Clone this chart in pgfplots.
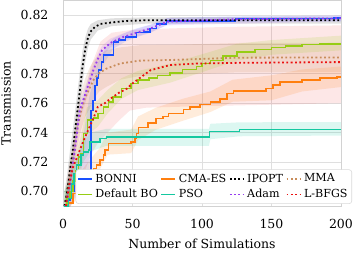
\documentclass[border=0pt]{standalone}
\usepackage{fontspec}
\setmainfont{DejaVu Serif}
\usepackage{pgfplots}
\pgfplotsset{compat=1.18}
\definecolor{cBonni}{RGB}{25,80,255}
\definecolor{cDef}{RGB}{150,205,20}
\definecolor{cCma}{RGB}{255,127,14}
\definecolor{cPso}{RGB}{20,200,160}
\definecolor{cAdam}{RGB}{150,60,240}
\definecolor{cMma}{RGB}{200,140,90}
\definecolor{cLbfgs}{RGB}{235,15,15}
\begin{document}
\begin{tikzpicture}
\begin{axis}[
  width=200pt, height=148pt, scale only axis,
  xmin=0, xmax=200, ymin=0.69, ymax=0.830,
  xtick={0,50,100,150,200},
  ytick={0.70,0.72,0.74,0.76,0.78,0.80,0.82},
  /pgf/number format/assume math mode=true,
  yticklabel style={/pgf/number format/fixed,/pgf/number format/fixed zerofill,/pgf/number format/precision=2, xshift=-7pt},
  tick label style={font=\fontsize{9}{10}\selectfont},
  xticklabel style={yshift=-6pt},
  major tick length=0pt,
  grid=major, grid style={gray!25, line width=0.6pt},
  axis line style={gray!35, line width=0.6pt},
  xlabel={Number of Simulations}, ylabel={Transmission},
  label style={font=\fontsize{9}{10}\selectfont},
  xlabel style={at={(axis description cs:0.5,-0.208)}, anchor=base},
  ylabel style={at={(axis description cs:-0.205,0.5)}, anchor=center},
  legend columns=4,
  legend cell align=left,
  legend image code/.code={\draw[#1, line width=1.1pt] (0pt,0pt) -- (10pt,0pt);},
  legend style={at={(1.04,0.01)}, anchor=south east,
    font=\fontsize{8}{8}\selectfont, draw=gray!30, rounded corners=2pt,
    fill=white, inner sep=1pt,
    /tikz/every even column/.append style={column sep=0pt},
    row sep=-0.5pt},
]
% ---------- bands ----------
\addplot[draw=none, fill=cLbfgs, fill opacity=0.10, forget plot] coordinates {
(2,0.70) (5,0.72) (10,0.745) (15,0.765) (20,0.785) (27,0.802) (35,0.808) (50,0.810) (80,0.811) (120,0.812) (200,0.813)
(200,0.760) (150,0.759) (100,0.758) (60,0.757) (48,0.755) (40,0.748) (30,0.738) (25,0.733) (20,0.725) (15,0.712) (10,0.70) (5,0.69) (2,0.685)
} -- cycle;
\addplot[draw=none, fill=cMma, fill opacity=0.18, forget plot] coordinates {
(2,0.70) (5,0.72) (8,0.738) (10,0.755) (13,0.768) (16,0.777) (19,0.784) (22,0.789) (26,0.793) (31,0.796) (41,0.798) (55,0.7995) (80,0.7998) (125,0.801) (200,0.8012)
(200,0.7812) (125,0.781) (80,0.7792) (55,0.7785) (41,0.776) (31,0.771) (26,0.768) (22,0.763) (19,0.756) (16,0.751) (13,0.742) (10,0.729) (8,0.712) (5,0.696) (2,0.68)
} -- cycle;
\addplot[draw=none, fill=cDef, fill opacity=0.15, forget plot] coordinates {
(1,0.70) (5,0.71) (9,0.725) (13,0.738) (17,0.757) (25,0.762) (32,0.769) (42,0.777) (54,0.782) (77,0.787) (106,0.795) (125,0.8005) (150,0.803) (200,0.806)
(200,0.796) (150,0.793) (125,0.789) (106,0.783) (77,0.774) (54,0.769) (42,0.763) (32,0.753) (25,0.744) (17,0.738) (13,0.713) (9,0.703) (5,0.69) (1,0.68)
} -- cycle;
\addplot[draw=none, fill=cCma, fill opacity=0.15, forget plot] coordinates {
(1,0.695) (10,0.71) (18,0.72) (26,0.729) (32,0.74) (49,0.742) (54,0.751) (67,0.757) (86,0.763) (106,0.768) (122,0.776) (150,0.779) (172,0.783) (200,0.785)
(200,0.771) (172,0.768) (150,0.762) (122,0.761) (106,0.754) (86,0.748) (67,0.742) (54,0.735) (49,0.726) (32,0.725) (26,0.714) (18,0.706) (10,0.695) (1,0.685)
} -- cycle;
\addplot[draw=none, fill=cPso, fill opacity=0.15, forget plot] coordinates {
(1,0.70) (6,0.712) (10,0.724) (14.6,0.733) (19.4,0.740) (31,0.7425) (105,0.7425) (106,0.746) (127,0.747) (200,0.7472)
(200,0.738) (127,0.7375) (106,0.7355) (105,0.731) (31,0.731) (19.4,0.727) (14.6,0.72) (10,0.711) (6,0.698) (1,0.685)
} -- cycle;
\addplot[draw=none, fill=black, fill opacity=0.12, forget plot] coordinates {
(1,0.700) (3,0.712) (5,0.728) (7,0.742) (10,0.765) (12,0.781) (14,0.796) (16,0.805) (18,0.811) (20,0.814) (25,0.8165) (35,0.8178) (60,0.8185) (200,0.8188)
(200,0.8142) (60,0.8142) (35,0.8125) (25,0.8095) (20,0.8035) (18,0.798) (16,0.788) (14,0.773) (12,0.755) (10,0.739) (7,0.714) (5,0.701) (3,0.690) (1,0.685)
} -- cycle;
\addplot[draw=none, fill=cBonni, fill opacity=0.12, forget plot] coordinates {
(3,0.70) (8,0.715) (15,0.74) (19,0.765) (21,0.772) (23,0.780) (25,0.787) (28,0.792) (30,0.797) (36,0.804) (45,0.808) (53,0.811) (63,0.8135) (75,0.8180) (124,0.8192) (200,0.8195)
(200,0.8158) (124,0.8155) (75,0.8135) (63,0.808) (53,0.805) (45,0.802) (36,0.797) (30,0.788) (28,0.784) (25,0.776) (23,0.766) (21,0.750) (19,0.715) (15,0.70) (8,0.695) (3,0.685)
} -- cycle;
\addplot[draw=none, fill=cAdam, fill opacity=0.12, forget plot] coordinates {
(2,0.695) (5,0.711) (8,0.731) (10,0.746) (12,0.761) (15,0.769) (18,0.777) (22,0.787) (25,0.794) (28,0.799) (34,0.804) (43,0.8075) (53,0.8105) (63,0.8135) (75,0.8180) (200,0.8198)
(200,0.8158) (75,0.8130) (63,0.8085) (53,0.8055) (43,0.8025) (34,0.798) (28,0.792) (25,0.786) (22,0.778) (18,0.766) (15,0.757) (12,0.748) (10,0.733) (8,0.719) (5,0.699) (2,0.685)
} -- cycle;
% ---------- lines (legend order: row-major) ----------
\addplot[const plot, cBonni, line width=1.1pt] coordinates {
(1,0.69) (3,0.694) (5,0.700) (8,0.7075) (20,0.755) (21.5,0.762) (23,0.772) (24.5,0.777) (25.5,0.7825) (27.5,0.788) (29,0.7927) (36.2,0.8018) (40,0.803) (45,0.805) (53,0.808) (58,0.8086) (62.6,0.811) (67.4,0.8139) (74.6,0.8161) (124,0.8177) (195,0.818) (200,0.818)
};
\addlegendentry{BONNI}
\addplot[const plot, cCma, line width=1.1pt] coordinates {
(1,0.69) (4,0.692) (7,0.6985) (10,0.702) (15,0.705) (17,0.7075) (18.2,0.7132) (22,0.7155) (24,0.7178) (26.6,0.7212) (29,0.7246) (30.2,0.728) (32.6,0.7325) (49,0.7336) (51.8,0.736) (53,0.7393) (54.2,0.7435) (61,0.7465) (67,0.7496) (72,0.7511) (76,0.753) (86.6,0.7557) (91.4,0.7575) (98.6,0.759) (106,0.761) (113,0.763) (118,0.7666) (122.5,0.7685) (146,0.770) (151,0.7723) (156,0.7745) (172,0.7757) (185,0.777) (197,0.778) (200,0.778)
};
\addlegendentry{CMA-ES}
\addplot[black, line width=1.3pt, dash pattern=on 1.3pt off 1.8pt] coordinates {
(1,0.69) (3,0.70) (5,0.715) (7,0.728) (10,0.752) (12,0.768) (14,0.785) (16,0.797) (18,0.805) (20,0.809) (23,0.812) (27,0.814) (35,0.815) (45,0.816) (60,0.8165) (200,0.8165)
};
\addlegendentry{IPOPT}
\addplot[cMma, line width=1.3pt, dash pattern=on 1.3pt off 1.8pt] coordinates {
(2,0.69) (5,0.708) (8,0.725) (10,0.742) (13,0.755) (16,0.764) (19,0.770) (22,0.776) (26,0.7805) (31,0.7835) (41,0.787) (55,0.789) (80,0.7895) (125,0.791) (200,0.7912)
};
\addlegendentry{MMA}
\addplot[const plot, cDef, line width=1.1pt] coordinates {
(1,0.69) (3,0.695) (5,0.700) (7,0.707) (9,0.714) (11,0.7234) (13,0.7257) (14.6,0.7393) (17.5,0.7484) (22,0.750) (25,0.753) (29,0.7575) (32.6,0.761) (36,0.7643) (42,0.770) (49,0.7734) (54,0.7757) (62,0.777) (68,0.779) (77,0.7805) (86,0.783) (96,0.785) (100,0.787) (106,0.789) (115,0.792) (125,0.795) (138,0.7965) (150,0.798) (160,0.799) (172,0.800) (185,0.8005) (200,0.8011)
};
\addlegendentry{Default BO}
\addplot[const plot, cPso, line width=1.1pt] coordinates {
(1,0.69) (4,0.695) (6,0.705) (8,0.712) (9.8,0.7178) (13,0.7246) (14.6,0.7268) (18.2,0.728) (19.4,0.7336) (26.6,0.736) (31.4,0.737) (105.5,0.7408) (127,0.7422) (200,0.7425)
};
\addlegendentry{PSO}
\addplot[cAdam, line width=1.3pt, dash pattern=on 1.3pt off 1.8pt] coordinates {
(2,0.69) (5,0.705) (8,0.725) (10,0.740) (12,0.755) (15,0.7635) (18,0.772) (22,0.783) (25,0.790) (28,0.796) (34,0.801) (43,0.805) (53,0.808) (63,0.811) (75,0.8155) (100,0.8163) (125,0.8172) (200,0.8178)
};
\addlegendentry{Adam}
\addplot[cLbfgs, line width=1.3pt, dash pattern=on 1.3pt off 1.8pt] coordinates {
(2,0.69) (5,0.7075) (7,0.716) (10,0.723) (12,0.728) (15,0.735) (18,0.7416) (22,0.750) (25,0.7575) (30,0.760) (34,0.763) (40,0.767) (46,0.770) (50,0.7735) (55,0.777) (63,0.7825) (77,0.786) (96,0.787) (125,0.7875) (200,0.788)
};
\addlegendentry{L-BFGS}
\end{axis}
\pgfresetboundingbox
\path[use as bounding box] ([xshift=-45.4pt,yshift=-33.1pt]current axis.south west) rectangle ([xshift=9.4pt,yshift=0.3pt]current axis.north east);
\end{tikzpicture}
\end{document}
